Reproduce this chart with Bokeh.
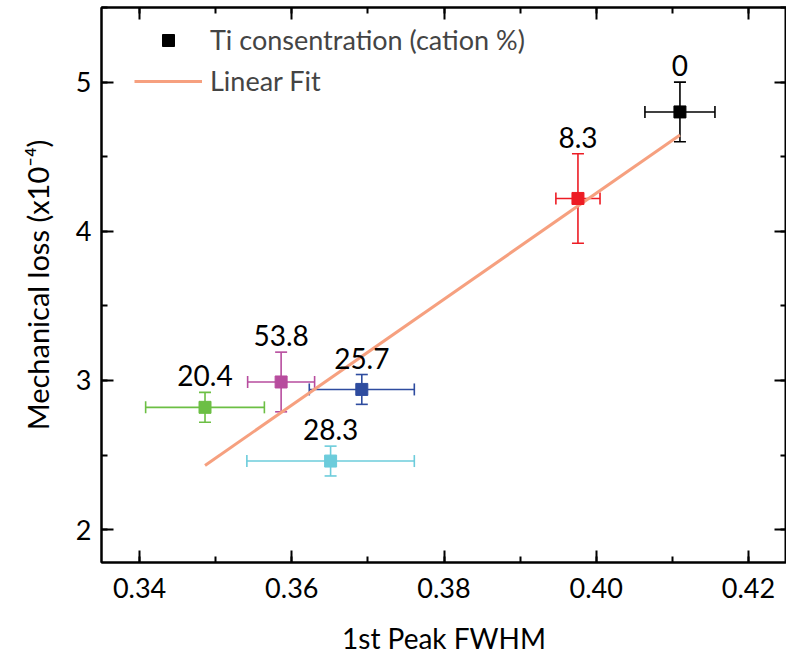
from bokeh.plotting import figure
from bokeh.models import (ColumnDataSource, Whisker, TeeHead, LinearAxis, Range1d,
                          Legend, LegendItem, SingleIntervalTicker, PrintfTickFormatter,
                          CustomLabelingPolicy)
from bokeh.core.properties import value
from bokeh.embed import file_html
from bokeh.resources import INLINE

# ---- data ----
labels = ["0", "8.3", "20.4", "25.7", "28.3", "53.8"]
fwhm = [0.4110, 0.3976, 0.3486, 0.3692, 0.3651, 0.3586]
fwhm_err = [0.0046, 0.0029, 0.0078, 0.0069, 0.0110, 0.0044]
loss = [4.80, 4.22, 2.82, 2.94, 2.46, 2.99]
loss_err = [0.20, 0.30, 0.10, 0.10, 0.10, 0.20]
colors = ["#000000", "#ED1C24", "#6CBF44", "#2E4C9F", "#6CCCDB", "#B74C9E"]
fit_x = [0.3486, 0.4110]
fit_y = [2.43, 4.645]
x_ticks_interval = 0.02
y_ticks_interval = 1

FONT = "Lato"

p = figure(frame_width=685, frame_height=555,
           x_range=Range1d(0.335, 0.425), y_range=Range1d(1.78, 5.5),
           output_backend="svg", toolbar_location=None,
           min_border_left=101, min_border_top=7, min_border_right=0, min_border_bottom=0)
p.xgrid.visible = False
p.ygrid.visible = False
p.outline_line_color = "black"
p.outline_line_width = 2
p.background_fill_color = "white"
p.border_fill_color = "white"

xt = SingleIntervalTicker(interval=x_ticks_interval, num_minor_ticks=2)
yt = SingleIntervalTicker(interval=y_ticks_interval, num_minor_ticks=2)


def style_axis(ax):
    ax.axis_line_width = 2
    ax.axis_line_color = "black"
    ax.major_tick_line_width = 2
    ax.minor_tick_line_width = 2
    ax.major_tick_in = 12
    ax.major_tick_out = 0
    ax.minor_tick_in = 6
    ax.minor_tick_out = 0
    ax.major_label_text_font = FONT
    ax.major_label_text_font_size = "27px"
    ax.major_label_text_color = "black"
    ax.axis_label_text_font = FONT
    ax.axis_label_text_font_size = "28px"
    ax.axis_label_text_font_style = "normal"
    ax.axis_label_text_color = "black"


xa = p.xaxis[0]
xa.ticker = xt
xa.formatter = PrintfTickFormatter(format="%.2f")
xa.axis_label = "1st Peak FWHM"
style_axis(xa)
xa.major_label_standoff = 15
xa.axis_label_standoff = 20

ya = p.yaxis[0]
ya.ticker = yt
ya.formatter = PrintfTickFormatter(format="%d")
ya.axis_label = "Mechanical loss (x10\u207b\u2074)"
style_axis(ya)
ya.axis_label_text_font_size = "29px"
ya.major_label_standoff = 10
ya.axis_label_standoff = 18

no_labels = CustomLabelingPolicy(code="""
    for (const i of indices) { indices.unset(i) }
    return indices
""")
top = LinearAxis(ticker=xt)
right = LinearAxis(ticker=yt)
for ax in (top, right):
    style_axis(ax)
    ax.major_label_policy = no_labels
    ax.major_label_text_font_size = "0px"
    ax.major_label_standoff = 0
    ax.axis_label = None
p.add_layout(top, "above")
p.add_layout(right, "right")

# ---- error bars ----
for xv, xe, yv, ye, c in zip(fwhm, fwhm_err, loss, loss_err, colors):
    s = ColumnDataSource(dict(x=[xv], y=[yv], lo_y=[yv - ye], hi_y=[yv + ye],
                              lo_x=[xv - xe], hi_x=[xv + xe]))
    wv = Whisker(source=s, base="x", lower="lo_y", upper="hi_y", dimension="height",
                 line_color=c, line_width=1.6,
                 lower_head=TeeHead(size=12, line_color=c, line_width=1.6),
                 upper_head=TeeHead(size=12, line_color=c, line_width=1.6),
                 level="underlay")
    wh = Whisker(source=s, base="y", lower="lo_x", upper="hi_x", dimension="width",
                 line_color=c, line_width=1.6,
                 lower_head=TeeHead(size=12, line_color=c, line_width=1.6),
                 upper_head=TeeHead(size=12, line_color=c, line_width=1.6),
                 level="underlay")
    p.add_layout(wv)
    p.add_layout(wh)

# ---- linear fit ----
fit_r = p.line(fit_x, fit_y, line_color="#F6A07F", line_width=3)

# ---- points ----
src = ColumnDataSource(dict(x=fwhm, y=loss, c=colors, lab=labels,
                            ytop=[l + e for l, e in zip(loss, loss_err)]))
pts = p.scatter("x", "y", source=src, marker="square", size=12,
                fill_color="c", line_color="c")

p.text("x", "ytop", text="lab", source=src, text_align="center",
       text_baseline="bottom", y_offset=-6,
       text_font=value(FONT), text_font_size="28px", text_color="black")

legend = Legend(items=[LegendItem(label="Ti consentration (cation %)", renderers=[pts], index=0),
                       LegendItem(label="Linear Fit", renderers=[fit_r])],
                location=(33, 465), border_line_color=None, background_fill_alpha=0,
                label_text_font=FONT, label_text_font_size="27px",
                glyph_width=68, glyph_height=30, label_height=30, spacing=8,
                padding=10, margin=0, label_standoff=8)
p.add_layout(legend)

open("out.html", "w").write(file_html(p, INLINE))
